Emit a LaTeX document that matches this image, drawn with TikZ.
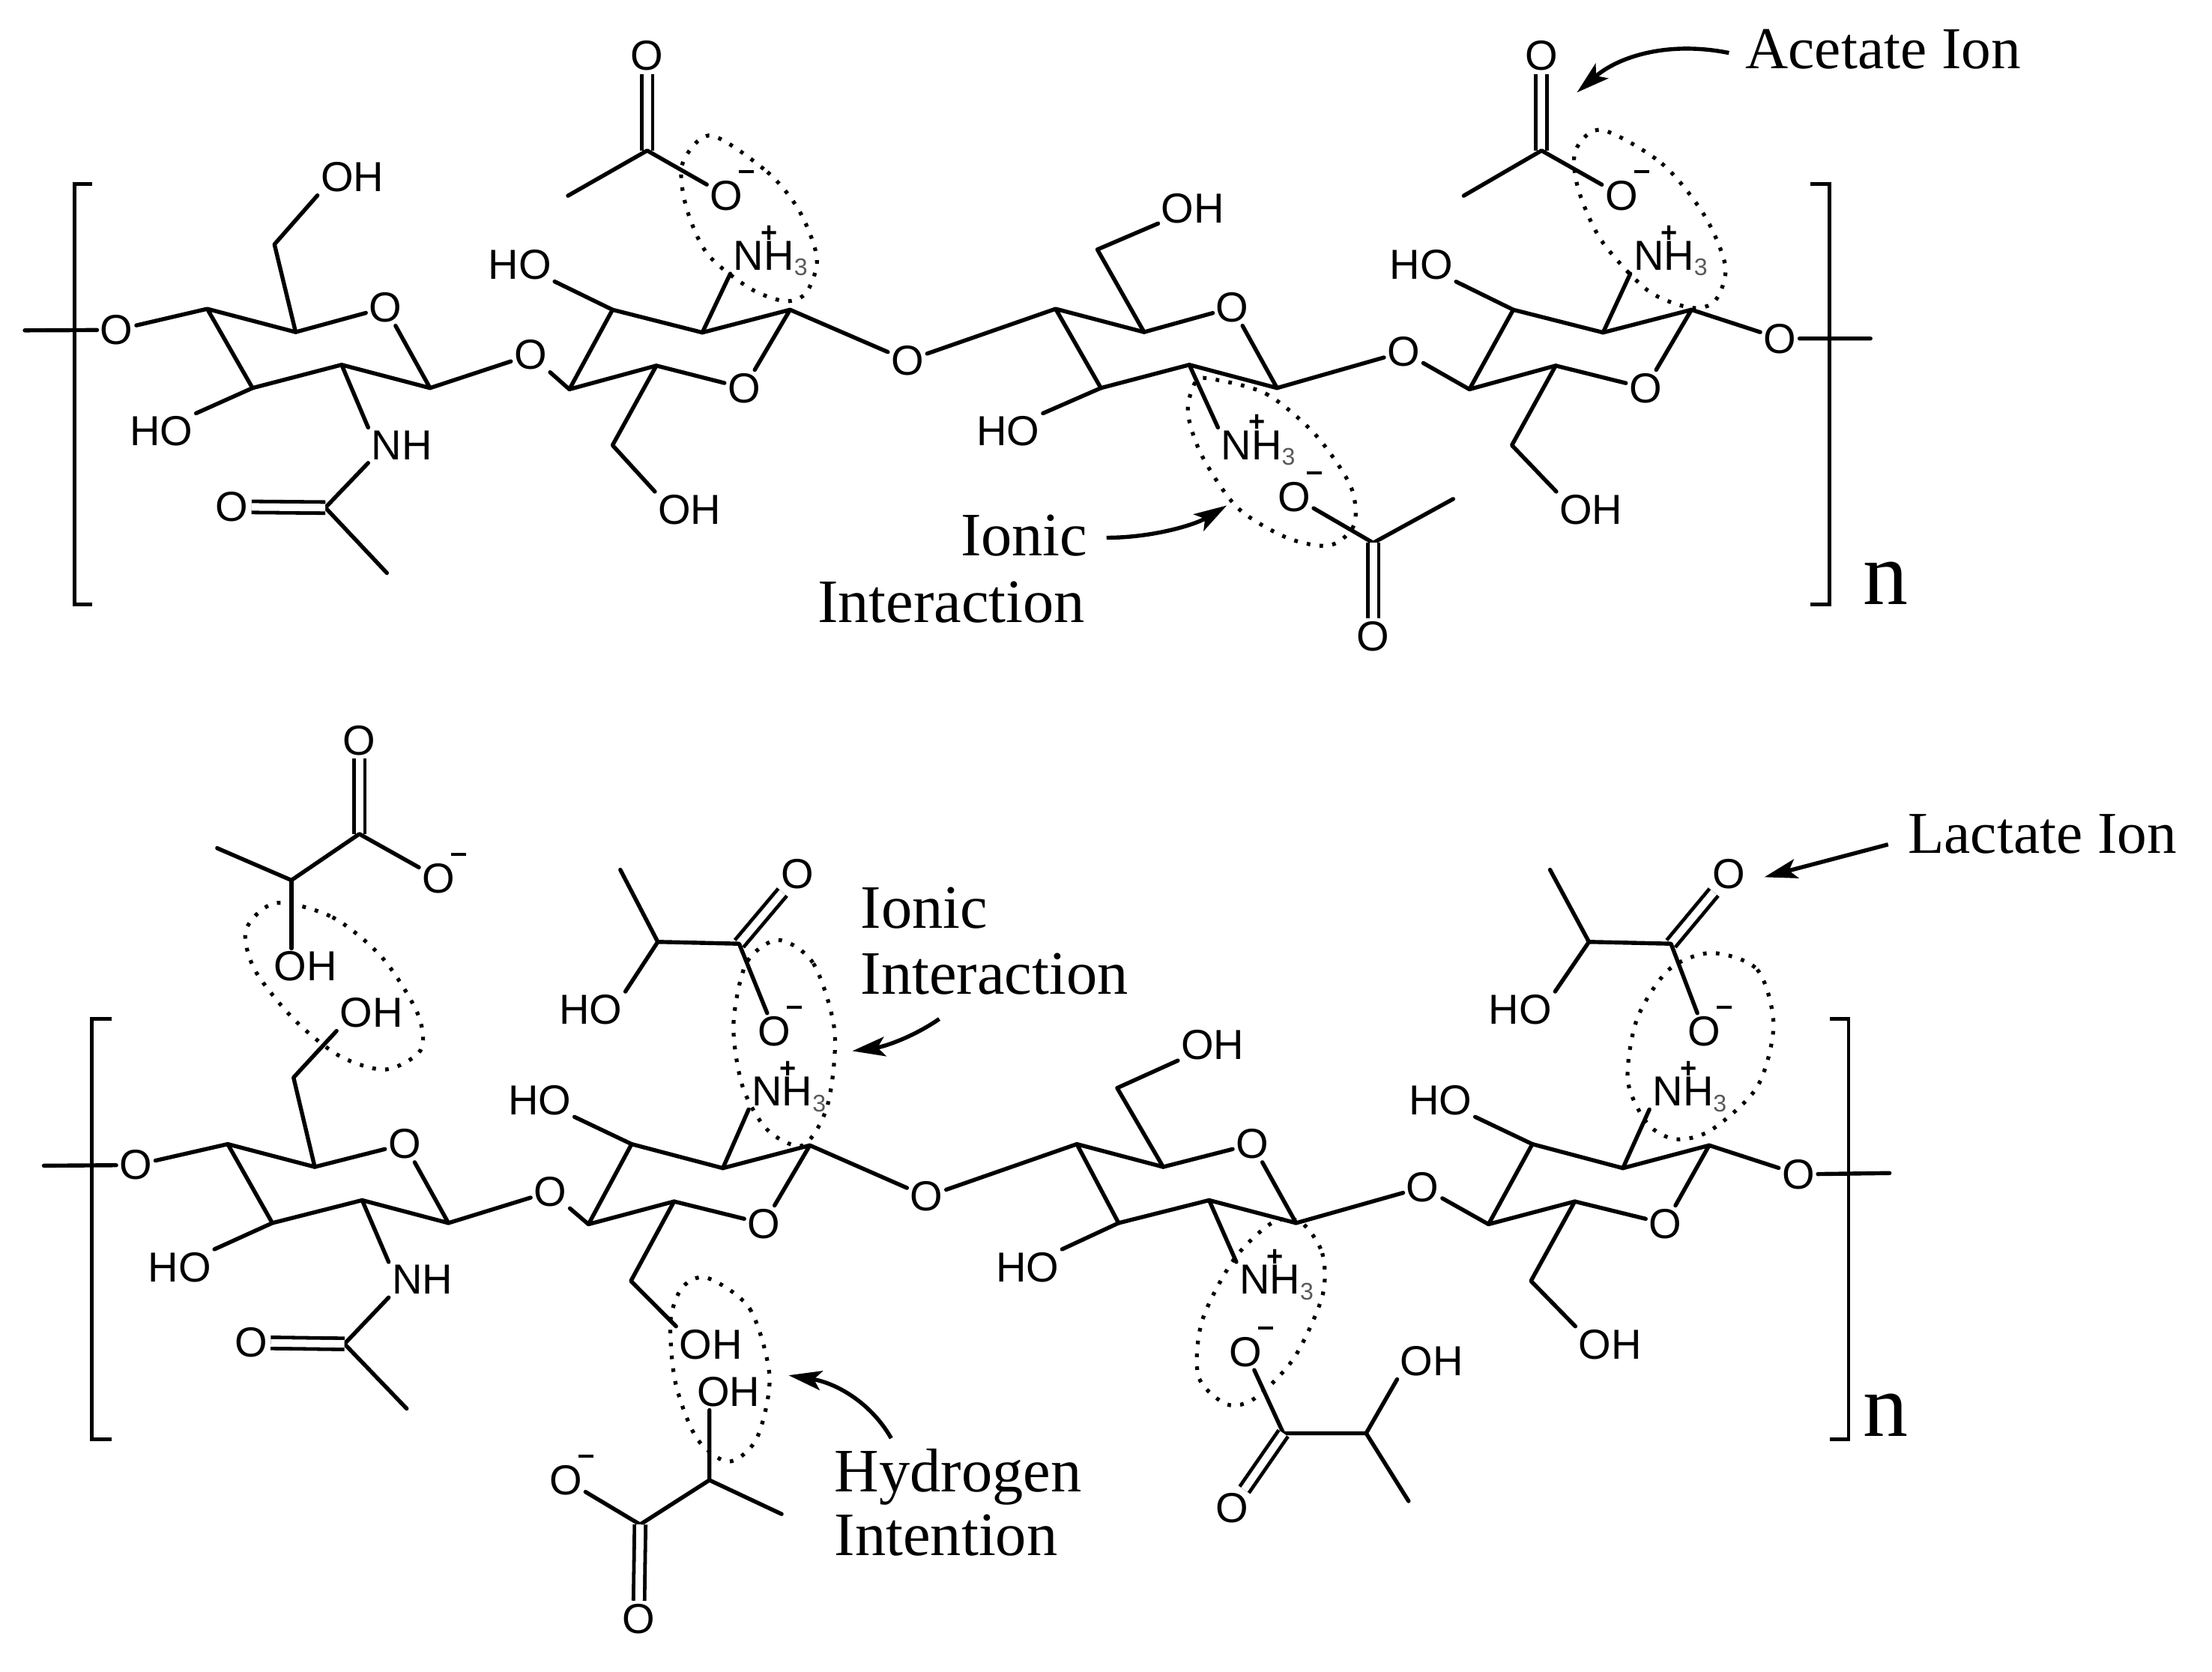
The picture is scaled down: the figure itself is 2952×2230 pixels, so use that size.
\documentclass[tikz,border=0pt]{standalone}
\usepackage{fontspec}
\usepackage{graphicx}
\setmainfont{Liberation Serif}
\newfontfamily\atomfont{Liberation Sans}
\usetikzlibrary{arrows.meta}
\newcommand{\Om}{O\rlap{\smash{\kern-1.25pt\raisebox{12.3pt}{\rule{5pt}{1pt}}}}}
\newcommand{\Nhh}{N\makebox[0pt]{\smash{\kern3.6pt\raisebox{9.4pt}{\fontsize{9.5}{9.5}\selectfont\bfseries +}}}H\rlap{\smash{\raisebox{-1.8pt}{\fontsize{8}{8}\selectfont\color{black!65}3}}}}
\tikzset{
  atom/.style={font=\atomfont\fontsize{14}{15}\selectfont,inner sep=1.1pt,outer sep=0pt},
  bond/.style={line width=1.35pt,line cap=round,line join=round,black},
  dbl/.style={line width=1.2pt,double,double distance=2.5pt,black},
  bracket/.style={line width=1.2pt,black},
  ell/.style={line width=1.3pt,dash pattern=on 1.2pt off 3.1pt,black},
  lab/.style={font=\fontsize{20.6}{22}\selectfont,inner sep=0pt,outer sep=0pt},
  ionlab/.style={font=\fontsize{19.8}{22}\selectfont,inner sep=0pt,outer sep=0pt},
  labl/.style={lab,anchor=base west},
  bign/.style={font=\fontsize{30}{30}\selectfont,inner sep=0pt},
  callout/.style={line width=1.35pt,black,-{Stealth[length=11pt,width=6.5pt,inset=2.5pt]}},
  tl/.style={x=.23597pt,y=-.1435pt},
  tr/.style={x=.23597pt,y=-.1435pt,xshift=368pt},
  bl/.style={x=.23597pt,y=-.20568pt,yshift=-235pt},
  br/.style={x=.23597pt,y=-.20568pt,xshift=368pt,yshift=-235pt}
}
\begin{document}
\begin{tikzpicture}[x=.25pt,y=-.25pt]
\useasboundingbox (0,0) rectangle (2952,2230);
%% ---------- TOP CHAIN, left half
\begin{scope}[tl]
\coordinate (ts) at (35,768);
\node[atom] (tO1) at (165,767) {O};
\coordinate (ta1) at (293,718);
\coordinate (ta2) at (418,772);
\node[atom] (tOa) at (545,715) {O};
\coordinate (ta4) at (608,902);
\coordinate (ta5) at (483,848);
\coordinate (ta6) at (357,902);
\coordinate (tam) at (388,568);
\node[atom] (tOHa) at (498,412) {OH};
\node[atom] (tHOa) at (228,1003) {HO};
\node[atom] (tNH) at (568,1035) {NH};
\coordinate (tac) at (460,1180);
\node[atom] (tOac) at (328,1178) {O};
\coordinate (tme) at (547,1332);
\node[atom] (tO2) at (750,825) {O};
\coordinate (tb1) at (805,905);
\coordinate (tb2) at (928,850);
\node[atom] (tOb) at (1052,902) {O};
\coordinate (tb4) at (1117,720);
\coordinate (tb5) at (993,773);
\coordinate (tb6) at (866,720);
\node[atom] (tHOb) at (735,615) {HO};
\node[atom] (tN1) at (1080,595) {\Nhh};
\coordinate (tbm) at (866,1035);
\node[atom] (tOHb) at (975,1185) {OH};
\node[atom] (tO3) at (1283,838) {O};
\node[atom] (tA1o) at (915,130) {O};
\coordinate (tA1c) at (915,350);
\coordinate (tA1m) at (803,455);
\node[atom] (tA1n) at (1027,455) {\Om};
\draw[bracket] (130,427) -- (105,427) -- (105,1405) -- (130,1405);
\draw[bond] (ts) -- (tO1) -- (ta1) -- (ta2) -- (tOa) -- (ta4) -- (ta5) -- (ta6) -- (ta1);
\draw[bond] (ta2) -- (tam) -- (tOHa.south west);
\draw[bond] (ta6) -- (tHOa.north east);
\draw[bond] (ta5) -- (tNH.north west);
\draw[bond] (tNH.south west) -- (tac) -- (tme);
\draw[dbl] (tOac) -- (tac);
\draw[bond] (ta4) -- (tO2) -- (tb1) -- (tb2) -- (tOb) -- (tb4) -- (tb5) -- (tb6) -- (tb1);
\draw[bond] (tb6) -- (tHOb);
\draw[bond] (tb5) -- (tN1.south west);
\draw[bond] (tb2) -- (tbm) -- (tOHb.north west);
\draw[bond] (tb4) -- (tO3);
\draw[dbl] (tA1o) -- (tA1c);
\draw[bond] (tA1m) -- (tA1c) -- (tA1n);
\draw[ell] plot[smooth cycle] coordinates {(1005,315) (1085,400) (1130,490) (1155,600) (1140,680) (1110,700) (1060,670) (1000,590) (970,480) (965,380)};
\node[lab] (tI1) at (1448,1245) {Ionic};
\node[lab] (tI2) at (1345,1400) {Interaction};
\end{scope}
%% ---------- TOP CHAIN, right half
\begin{scope}[tr]
\coordinate (tc1) at (-67,718);
\coordinate (tc2) at (58,772);
\node[atom] (tOc) at (183,715) {O};
\coordinate (tc4) at (246,902);
\coordinate (tc5) at (122,848);
\coordinate (tc6) at (-3,902);
\coordinate (tcm) at (-8,580);
\node[atom] (tOHc) at (127,485) {OH};
\node[atom] (tHOc) at (-134,1003) {HO};
\node[atom] (tN2) at (210,1035) {\Nhh};
\node[atom] (tO4) at (425,818) {O};
\coordinate (td1) at (518,905);
\coordinate (td2) at (640,850);
\node[atom] (tOd) at (767,902) {O};
\coordinate (td4) at (832,720);
\coordinate (td5) at (707,773);
\coordinate (td6) at (580,720);
\node[atom] (tHOd) at (450,615) {HO};
\node[atom] (tN3) at (793,595) {\Nhh};
\coordinate (tdm) at (578,1035);
\node[atom] (tOHd) at (690,1185) {OH};
\node[atom] (tO5) at (957,787) {O};
\coordinate (te) at (1085,787);
\node[atom] (tA2o) at (620,130) {O};
\coordinate (tA2c) at (620,350);
\coordinate (tA2m) at (510,455);
\node[atom] (tA2n) at (733,455) {\Om};
\node[atom] (tA3n) at (270,1155) {\Om};
\coordinate (tA3c) at (382,1262);
\coordinate (tA3m) at (495,1160);
\node[atom] (tA3o) at (382,1480) {O};
\draw[bond] (tO3) -- (tc1) -- (tc2) -- (tOc) -- (tc4) -- (tc5) -- (tc6) -- (tc1);
\draw[bond] (tc2) -- (tcm) -- (tOHc);
\draw[bond] (tc6) -- (tHOc.north east);
\draw[bond] (tc5) -- (tN2.north west);
\draw[bond] (tc4) -- (tO4) -- (td1) -- (td2) -- (tOd) -- (td4) -- (td5) -- (td6) -- (td1);
\draw[bond] (td6) -- (tHOd);
\draw[bond] (td5) -- (tN3.south west);
\draw[bond] (td2) -- (tdm) -- (tOHd.north west);
\draw[bond] (td4) -- (tO5) -- (te);
\draw[dbl] (tA2o) -- (tA2c);
\draw[bond] (tA2m) -- (tA2c) -- (tA2n);
\draw[bond] (tA3n) -- (tA3c) -- (tA3m);
\draw[dbl] (tA3c) -- (tA3o);
\draw[bracket] (1000,427) -- (1027,427) -- (1027,1405) -- (1000,1405);
\draw[ell] plot[smooth cycle] coordinates {(705,302) (790,380) (850,500) (880,620) (865,700) (830,715) (770,675) (705,560) (672,440) (668,350)};
\draw[ell] plot[smooth cycle] coordinates {(150,880) (230,915) (300,1010) (350,1130) (355,1220) (320,1268) (260,1250) (190,1180) (140,1060) (120,960) (130,890)};
\node[bign] (tn) at (1107,1355) {n};
\node[ionlab] (tAc) at (1103,115) {Acetate Ion};
\coordinate (tAa) at (885,123);
\coordinate (tAb) at (670,215);
\draw[callout] (tAa) .. controls (800,95) and (730,130) .. (tAb);
\coordinate (tIa) at (5,1250);
\coordinate (tIb) at (175,1175);
\draw[callout] (tIa) .. controls (70,1250) and (130,1220) .. (tIb);
\end{scope}
%% ---------- BOTTOM CHAIN, left half
\begin{scope}[bl]
\coordinate (ls) at (62,748);
\node[atom] (lO1) at (192,747) {O};
\coordinate (la1) at (322,713);
\coordinate (la2) at (445,750);
\node[atom] (lOa) at (572,713) {O};
\coordinate (la4) at (634,841);
\coordinate (la5) at (512,804);
\coordinate (la6) at (385,841);
\coordinate (lam) at (415,605);
\node[atom] (lOHa) at (525,500) {OH};
\node[atom] (lHOa) at (254,913) {HO};
\node[atom] (lNH) at (597,933) {NH};
\coordinate (lac) at (487,1037);
\node[atom] (lOac) at (355,1035) {O};
\coordinate (lme) at (575,1142);
\node[atom] (lO2) at (778,790) {O};
\coordinate (lb1) at (832,843);
\coordinate (lb2) at (953,806);
\node[atom] (lOb) at (1080,842) {O};
\coordinate (lb4) at (1145,715);
\coordinate (lb5) at (1022,752);
\coordinate (lb6) at (893,713);
\node[atom] (lHOb) at (763,642) {HO};
\node[atom] (lN1) at (1106,628) {\Nhh};
\coordinate (lbm) at (892,935);
\node[atom] (lOHb) at (1005,1038) {OH};
\node[atom] (lO3) at (1310,798) {O};
\node[atom] (lL1o) at (508,58) {O};
\coordinate (lL1c) at (508,210);
\node[atom] (lL1n) at (620,282) {\Om};
\coordinate (lL1h) at (412,285);
\coordinate (lL1m) at (307,233);
\node[atom] (lL1oh) at (432,425) {OH};
\node[atom] (lL2o) at (1128,275) {O};
\coordinate (lL2c) at (1045,388);
\coordinate (lL2h) at (930,385);
\coordinate (lL2m) at (877,268);
\node[atom] (lL2oh) at (835,495) {HO};
\node[atom] (lL2n) at (1095,530) {\Om};
\node[atom] (lL3oh) at (1030,1115) {OH};
\coordinate (lL3h) at (1003,1258);
\coordinate (lL3m) at (1105,1313);
\coordinate (lL3c) at (905,1330);
\node[atom] (lL3n) at (800,1258) {\Om};
\node[atom] (lL3o) at (903,1483) {O};
\draw[bracket] (158,510) -- (130,510) -- (130,1192) -- (158,1192);
\draw[bond] (ls) -- (lO1) -- (la1) -- (la2) -- (lOa) -- (la4) -- (la5) -- (la6) -- (la1);
\draw[bond] (la2) -- (lam) -- (lOHa.south west);
\draw[bond] (la6) -- (lHOa.north east);
\draw[bond] (la5) -- (lNH.north west);
\draw[bond] (lNH.south west) -- (lac) -- (lme);
\draw[dbl] (lOac) -- (lac);
\draw[bond] (la4) -- (lO2) -- (lb1) -- (lb2) -- (lOb) -- (lb4) -- (lb5) -- (lb6) -- (lb1);
\draw[bond] (lb6) -- (lHOb);
\draw[bond] (lb5) -- (lN1.south west);
\draw[bond] (lb2) -- (lbm) -- (lOHb.north west);
\draw[bond] (lb4) -- (lO3);
\draw[dbl] (lL1o) -- (lL1c);
\draw[bond] (lL1n) -- (lL1c) -- (lL1h) -- (lL1m);
\draw[bond] (lL1h) -- (lL1h |- lL1oh.north);
\draw[dbl] (lL2o) -- (lL2c);
\draw[bond] (lL2n) -- (lL2c) -- (lL2h) -- (lL2m);
\draw[bond] (lL2h) -- (lL2oh.north east);
\draw[bond] (lL3h |- lL3oh.south) -- (lL3h) -- (lL3m);
\draw[bond] (lL3h) -- (lL3c) -- (lL3n);
\draw[dbl] (lL3c) -- (lL3o);
\draw[ell] plot[smooth cycle] coordinates {(390,322) (470,345) (540,410) (590,500) (595,560) (545,592) (480,570) (415,510) (360,430) (348,365)};
\draw[ell] plot[smooth cycle] coordinates {(1100,382) (1150,420) (1180,530) (1170,650) (1135,715) (1085,690) (1050,620) (1037,520) (1055,420)};
\draw[ell] plot[smooth cycle] coordinates {(1000,930) (1060,980) (1088,1090) (1070,1190) (1030,1228) (985,1190) (955,1100) (948,1000) (965,945)};
\node[labl] (lI1) at (1217,363) {Ionic};
\node[labl] (lI2) at (1217,470) {Interaction};
\node[labl] (lH1) at (1180,1277) {Hydrogen};
\node[labl] (lH2) at (1180,1380) {Intention};
\coordinate (lIa) at (1328,510);
\coordinate (lIb) at (1205,562);
\draw[callout] (lIa) .. controls (1290,540) and (1250,555) .. (lIb);
\coordinate (lHa) at (1260,1190);
\coordinate (lHb) at (1115,1088);
\draw[callout] (lHa) .. controls (1230,1130) and (1180,1100) .. (lHb);
\end{scope}
%% ---------- BOTTOM CHAIN, right half
\begin{scope}[br]
\coordinate (lc1) at (-37,713);
\coordinate (lc2) at (85,750);
\node[atom] (lOc) at (211,713) {O};
\coordinate (lc4) at (273,841);
\coordinate (lc5) at (150,804);
\coordinate (lc6) at (22,841);
\coordinate (lcm) at (20,622);
\node[atom] (lOHc) at (155,552) {OH};
\node[atom] (lHOc) at (-107,913) {HO};
\node[atom] (lN2) at (236,933) {\Nhh};
\node[atom] (lO4) at (452,783) {O};
\coordinate (ld1) at (545,843);
\coordinate (ld2) at (667,806);
\node[atom] (lOd) at (795,842) {O};
\coordinate (ld4) at (857,715);
\coordinate (ld5) at (735,752);
\coordinate (ld6) at (607,713);
\node[atom] (lHOd) at (477,642) {HO};
\node[atom] (lN3) at (820,628) {\Nhh};
\coordinate (ldm) at (605,935);
\node[atom] (lOHd) at (717,1038) {OH};
\node[atom] (lO5) at (983,762) {O};
\coordinate (le) at (1112,760);
\node[atom] (lL4o) at (885,275) {O};
\coordinate (lL4c) at (803,388);
\coordinate (lL4h) at (687,385);
\coordinate (lL4m) at (632,268);
\node[atom] (lL4oh) at (590,495) {HO};
\node[atom] (lL4n) at (850,530) {\Om};
\node[atom] (lL5n) at (202,1050) {\Om};
\coordinate (lL5c) at (255,1182);
\node[atom] (lL5o) at (182,1303) {O};
\coordinate (lL5h) at (372,1182);
\node[atom] (lL5oh) at (465,1065) {OH};
\coordinate (lL5m) at (432,1292);
\draw[bond] (lO3) -- (lc1) -- (lc2) -- (lOc) -- (lc4) -- (lc5) -- (lc6) -- (lc1);
\draw[bond] (lc2) -- (lcm) -- (lOHc);
\draw[bond] (lc6) -- (lHOc.north east);
\draw[bond] (lc5) -- (lN2.north west);
\draw[bond] (lc4) -- (lO4) -- (ld1) -- (ld2) -- (lOd) -- (ld4) -- (ld5) -- (ld6) -- (ld1);
\draw[bond] (ld6) -- (lHOd);
\draw[bond] (ld5) -- (lN3.south west);
\draw[bond] (ld2) -- (ldm) -- (lOHd.north west);
\draw[bond] (ld4) -- (lO5) -- (le);
\draw[dbl] (lL4o) -- (lL4c);
\draw[bond] (lL4n) -- (lL4c) -- (lL4h) -- (lL4m);
\draw[bond] (lL4h) -- (lL4oh.north east);
\draw[bond] (lL5n) -- (lL5c) -- (lL5h) -- (lL5m);
\draw[bond] (lL5h) -- (lL5oh.south west);
\draw[dbl] (lL5c) -- (lL5o);
\draw[bracket] (1028,510) -- (1054,510) -- (1054,1192) -- (1028,1192);
\draw[ell] plot[smooth cycle] coordinates {(860,403) (925,430) (948,520) (925,620) (860,690) (810,705) (770,680) (742,610) (755,510) (800,430)};
\draw[ell] plot[smooth cycle] coordinates {(280,840) (310,890) (310,960) (270,1060) (215,1125) (175,1135) (135,1090) (140,1000) (185,900) (240,840)};
\node[bign] (ln) at (1107,1152) {n};
\node[ionlab] (lLa) at (1328,210) {Lactate Ion};
\coordinate (lLaa) at (1110,227);
\coordinate (lLab) at (935,280);
\draw[callout] (lLaa) -- (lLab);
\end{scope}
\end{tikzpicture}
\end{document}
